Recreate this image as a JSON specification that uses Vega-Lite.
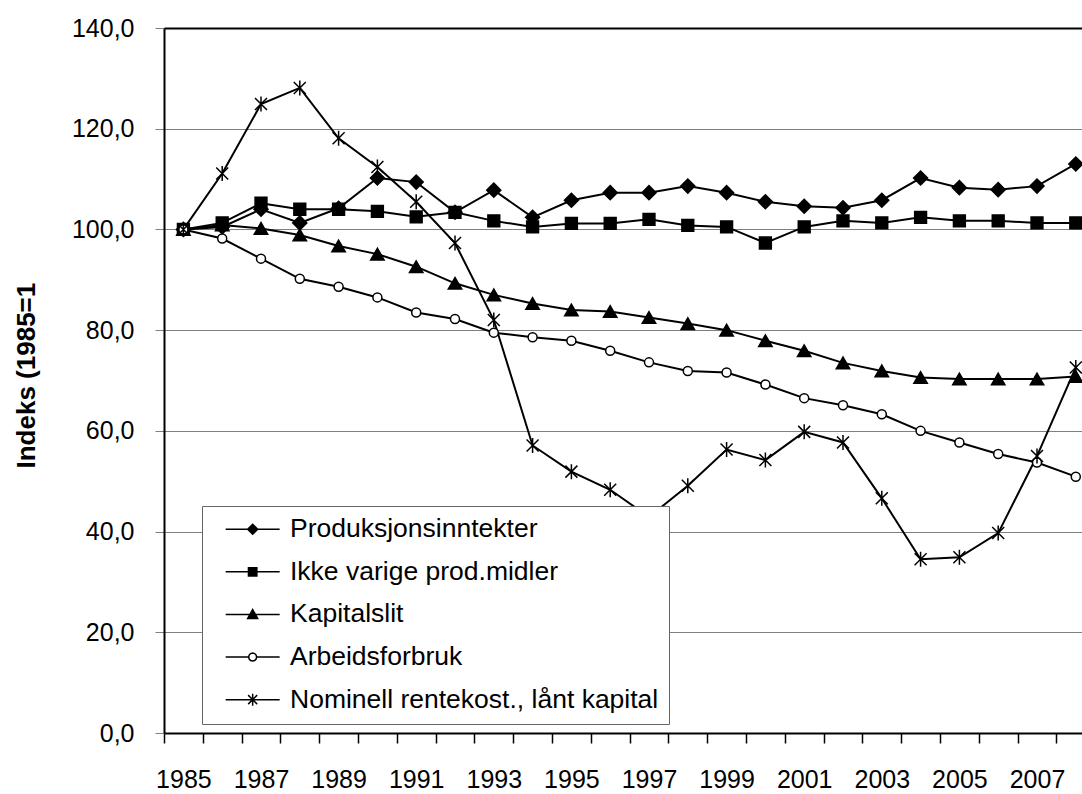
{
  "$schema": "https://vega.github.io/schema/vega-lite/v6.json",
  "width": 918,
  "height": 705,
  "autosize": {"type": "none"},
  "padding": {"left": 164, "top": 28, "right": 0, "bottom": 61},
  "background": "white",
  "view": {"stroke": null},
  "config": {"font": "Liberation Sans"},
  "data": {"values": [
    {"year": 1985, "series": "Produksjonsinntekter", "value": 100},
    {"year": 1986, "series": "Produksjonsinntekter", "value": 100.5},
    {"year": 1987, "series": "Produksjonsinntekter", "value": 104.0},
    {"year": 1988, "series": "Produksjonsinntekter", "value": 101.3},
    {"year": 1989, "series": "Produksjonsinntekter", "value": 104.2},
    {"year": 1990, "series": "Produksjonsinntekter", "value": 110.2},
    {"year": 1991, "series": "Produksjonsinntekter", "value": 109.4},
    {"year": 1992, "series": "Produksjonsinntekter", "value": 103.4},
    {"year": 1993, "series": "Produksjonsinntekter", "value": 107.8},
    {"year": 1994, "series": "Produksjonsinntekter", "value": 102.4},
    {"year": 1995, "series": "Produksjonsinntekter", "value": 105.8},
    {"year": 1996, "series": "Produksjonsinntekter", "value": 107.3},
    {"year": 1997, "series": "Produksjonsinntekter", "value": 107.3},
    {"year": 1998, "series": "Produksjonsinntekter", "value": 108.6},
    {"year": 1999, "series": "Produksjonsinntekter", "value": 107.3},
    {"year": 2000, "series": "Produksjonsinntekter", "value": 105.5},
    {"year": 2001, "series": "Produksjonsinntekter", "value": 104.6},
    {"year": 2002, "series": "Produksjonsinntekter", "value": 104.3},
    {"year": 2003, "series": "Produksjonsinntekter", "value": 105.8},
    {"year": 2004, "series": "Produksjonsinntekter", "value": 110.2},
    {"year": 2005, "series": "Produksjonsinntekter", "value": 108.3},
    {"year": 2006, "series": "Produksjonsinntekter", "value": 107.9},
    {"year": 2007, "series": "Produksjonsinntekter", "value": 108.6},
    {"year": 2008, "series": "Produksjonsinntekter", "value": 113.0},
    {"year": 1985, "series": "Ikke varige prod.midler", "value": 100},
    {"year": 1986, "series": "Ikke varige prod.midler", "value": 101.3},
    {"year": 1987, "series": "Ikke varige prod.midler", "value": 105.2},
    {"year": 1988, "series": "Ikke varige prod.midler", "value": 104.0},
    {"year": 1989, "series": "Ikke varige prod.midler", "value": 104.0},
    {"year": 1990, "series": "Ikke varige prod.midler", "value": 103.6},
    {"year": 1991, "series": "Ikke varige prod.midler", "value": 102.5},
    {"year": 1992, "series": "Ikke varige prod.midler", "value": 103.4},
    {"year": 1993, "series": "Ikke varige prod.midler", "value": 101.7},
    {"year": 1994, "series": "Ikke varige prod.midler", "value": 100.5},
    {"year": 1995, "series": "Ikke varige prod.midler", "value": 101.2},
    {"year": 1996, "series": "Ikke varige prod.midler", "value": 101.2},
    {"year": 1997, "series": "Ikke varige prod.midler", "value": 102.0},
    {"year": 1998, "series": "Ikke varige prod.midler", "value": 100.8},
    {"year": 1999, "series": "Ikke varige prod.midler", "value": 100.5},
    {"year": 2000, "series": "Ikke varige prod.midler", "value": 97.3},
    {"year": 2001, "series": "Ikke varige prod.midler", "value": 100.5},
    {"year": 2002, "series": "Ikke varige prod.midler", "value": 101.7},
    {"year": 2003, "series": "Ikke varige prod.midler", "value": 101.3},
    {"year": 2004, "series": "Ikke varige prod.midler", "value": 102.4},
    {"year": 2005, "series": "Ikke varige prod.midler", "value": 101.7},
    {"year": 2006, "series": "Ikke varige prod.midler", "value": 101.7},
    {"year": 2007, "series": "Ikke varige prod.midler", "value": 101.3},
    {"year": 2008, "series": "Ikke varige prod.midler", "value": 101.3},
    {"year": 1985, "series": "Kapitalslit", "value": 100},
    {"year": 1986, "series": "Kapitalslit", "value": 100.9},
    {"year": 1987, "series": "Kapitalslit", "value": 100.2},
    {"year": 1988, "series": "Kapitalslit", "value": 98.9},
    {"year": 1989, "series": "Kapitalslit", "value": 96.7},
    {"year": 1990, "series": "Kapitalslit", "value": 95.1},
    {"year": 1991, "series": "Kapitalslit", "value": 92.6},
    {"year": 1992, "series": "Kapitalslit", "value": 89.3},
    {"year": 1993, "series": "Kapitalslit", "value": 87.0},
    {"year": 1994, "series": "Kapitalslit", "value": 85.3},
    {"year": 1995, "series": "Kapitalslit", "value": 84.0},
    {"year": 1996, "series": "Kapitalslit", "value": 83.7},
    {"year": 1997, "series": "Kapitalslit", "value": 82.5},
    {"year": 1998, "series": "Kapitalslit", "value": 81.3},
    {"year": 1999, "series": "Kapitalslit", "value": 80.0},
    {"year": 2000, "series": "Kapitalslit", "value": 77.9},
    {"year": 2001, "series": "Kapitalslit", "value": 75.9},
    {"year": 2002, "series": "Kapitalslit", "value": 73.5},
    {"year": 2003, "series": "Kapitalslit", "value": 71.9},
    {"year": 2004, "series": "Kapitalslit", "value": 70.6},
    {"year": 2005, "series": "Kapitalslit", "value": 70.3},
    {"year": 2006, "series": "Kapitalslit", "value": 70.3},
    {"year": 2007, "series": "Kapitalslit", "value": 70.3},
    {"year": 2008, "series": "Kapitalslit", "value": 70.8},
    {"year": 1985, "series": "Arbeidsforbruk", "value": 100},
    {"year": 1986, "series": "Arbeidsforbruk", "value": 98.2},
    {"year": 1987, "series": "Arbeidsforbruk", "value": 94.2},
    {"year": 1988, "series": "Arbeidsforbruk", "value": 90.2},
    {"year": 1989, "series": "Arbeidsforbruk", "value": 88.6},
    {"year": 1990, "series": "Arbeidsforbruk", "value": 86.5},
    {"year": 1991, "series": "Arbeidsforbruk", "value": 83.5},
    {"year": 1992, "series": "Arbeidsforbruk", "value": 82.2},
    {"year": 1993, "series": "Arbeidsforbruk", "value": 79.5},
    {"year": 1994, "series": "Arbeidsforbruk", "value": 78.6},
    {"year": 1995, "series": "Arbeidsforbruk", "value": 77.9},
    {"year": 1996, "series": "Arbeidsforbruk", "value": 75.9},
    {"year": 1997, "series": "Arbeidsforbruk", "value": 73.6},
    {"year": 1998, "series": "Arbeidsforbruk", "value": 71.9},
    {"year": 1999, "series": "Arbeidsforbruk", "value": 71.6},
    {"year": 2000, "series": "Arbeidsforbruk", "value": 69.2},
    {"year": 2001, "series": "Arbeidsforbruk", "value": 66.5},
    {"year": 2002, "series": "Arbeidsforbruk", "value": 65.1},
    {"year": 2003, "series": "Arbeidsforbruk", "value": 63.3},
    {"year": 2004, "series": "Arbeidsforbruk", "value": 60.0},
    {"year": 2005, "series": "Arbeidsforbruk", "value": 57.7},
    {"year": 2006, "series": "Arbeidsforbruk", "value": 55.4},
    {"year": 2007, "series": "Arbeidsforbruk", "value": 53.7},
    {"year": 2008, "series": "Arbeidsforbruk", "value": 50.9},
    {"year": 1985, "series": "Nominell rentekost., lånt kapital", "value": 100},
    {"year": 1986, "series": "Nominell rentekost., lånt kapital", "value": 111.1},
    {"year": 1987, "series": "Nominell rentekost., lånt kapital", "value": 124.9},
    {"year": 1988, "series": "Nominell rentekost., lånt kapital", "value": 128.1},
    {"year": 1989, "series": "Nominell rentekost., lånt kapital", "value": 118.1},
    {"year": 1990, "series": "Nominell rentekost., lånt kapital", "value": 112.4},
    {"year": 1991, "series": "Nominell rentekost., lånt kapital", "value": 105.5},
    {"year": 1992, "series": "Nominell rentekost., lånt kapital", "value": 97.3},
    {"year": 1993, "series": "Nominell rentekost., lånt kapital", "value": 82.0},
    {"year": 1994, "series": "Nominell rentekost., lånt kapital", "value": 57.1},
    {"year": 1995, "series": "Nominell rentekost., lånt kapital", "value": 51.9},
    {"year": 1996, "series": "Nominell rentekost., lånt kapital", "value": 48.3},
    {"year": 1997, "series": "Nominell rentekost., lånt kapital", "value": 42.9},
    {"year": 1998, "series": "Nominell rentekost., lånt kapital", "value": 49.1},
    {"year": 1999, "series": "Nominell rentekost., lånt kapital", "value": 56.3},
    {"year": 2000, "series": "Nominell rentekost., lånt kapital", "value": 54.2},
    {"year": 2001, "series": "Nominell rentekost., lånt kapital", "value": 59.8},
    {"year": 2002, "series": "Nominell rentekost., lånt kapital", "value": 57.7},
    {"year": 2003, "series": "Nominell rentekost., lånt kapital", "value": 46.6},
    {"year": 2004, "series": "Nominell rentekost., lånt kapital", "value": 34.5},
    {"year": 2005, "series": "Nominell rentekost., lånt kapital", "value": 34.9},
    {"year": 2006, "series": "Nominell rentekost., lånt kapital", "value": 39.7},
    {"year": 2007, "series": "Nominell rentekost., lånt kapital", "value": 55.0},
    {"year": 2008, "series": "Nominell rentekost., lånt kapital", "value": 72.6}
  ]},
  "encoding": {
    "x": {
      "field": "year", "type": "quantitative",
      "scale": {"domain": [1984.5, 2008.16], "nice": false, "zero": false},
      "axis": {
        "title": null,
        "values": [1984.5, 1985, 1985.5, 1986.5, 1987, 1987.5, 1988.5, 1989, 1989.5, 1990.5, 1991, 1991.5, 1992.5, 1993, 1993.5, 1994.5, 1995, 1995.5, 1996.5, 1997, 1997.5, 1998.5, 1999, 1999.5, 2000.5, 2001, 2001.5, 2002.5, 2003, 2003.5, 2004.5, 2005, 2005.5, 2006.5, 2007, 2007.5],
        "labelExpr": "datum.value % 2 === 1 ? toString(datum.value) : ''",
        "labelOverlap": false, "labelBound": false, "labelFlush": false,
        "labelFont": "Liberation Sans", "labelFontSize": 25, "labelColor": "black",
        "labelPadding": 24, "labelBaseline": "top", "labelAlign": "center",
        "tickColor": "black", "tickSize": 10, "tickWidth": 1.5,
        "tickOpacity": {"condition": {"test": "datum.value % 1 === 0", "value": 0}, "value": 1},
        "domainColor": "black", "domainWidth": 2, "grid": false
      }
    },
    "y": {
      "field": "value", "type": "quantitative",
      "scale": {"domain": [0, 140], "nice": false},
      "axis": {
        "values": [0, 20, 40, 60, 80, 100, 120, 140],
        "labelExpr": "replace(format(datum.value, '.1f'), '.', ',')",
        "labelFont": "Liberation Sans", "labelFontSize": 25, "labelColor": "black",
        "labelPadding": 21, "labelBound": false, "labelFlush": false,
        "tickSize": 9, "tickColor": "#808080", "tickWidth": 1,
        "domainColor": "black", "domainWidth": 2,
        "grid": true,
        "gridColor": {"condition": {"test": "datum.value === 140", "value": "black"}, "value": "#808080"},
        "gridWidth": {"condition": {"test": "datum.value === 140", "value": 2}, "value": 1},
        "title": "Indeks (1985=1",
        "titleFont": "Liberation Sans", "titleFontSize": 26, "titleFontWeight": "bold", "titleColor": "black",
        "titleAngle": 270, "titleAlign": "left", "titleBaseline": "alphabetic",
        "titleX": -130, "titleY": 440
      }
    }
  },
  "layer": [
    {
      "mark": {"type": "line", "color": "black", "strokeWidth": 2},
      "encoding": {"detail": {"field": "series", "type": "nominal"}}
    },
    {
      "mark": {"type": "point", "filled": true, "stroke": "black", "strokeWidth": 1.5, "opacity": 1},
      "encoding": {
        "shape": {
          "field": "series", "type": "nominal",
          "scale": {
            "domain": ["Produksjonsinntekter", "Ikke varige prod.midler", "Kapitalslit", "Arbeidsforbruk", "Nominell rentekost., lånt kapital"],
            "range": ["diamond", "square", "triangle-up", "circle", "M-1,-1L1,1M-1,1L1,-1M0,-1.25L0,1.25"]
          },
          "legend": null
        },
        "fill": {
          "field": "series", "type": "nominal",
          "scale": {
            "domain": ["Arbeidsforbruk", "Ikke varige prod.midler", "Kapitalslit", "Nominell rentekost., lånt kapital", "Produksjonsinntekter"],
            "range": ["white", "black", "black", "transparent", "black"]
          },
          "legend": null
        },
        "size": {
          "field": "series", "type": "nominal",
          "scale": {
            "type": "ordinal",
            "domain": ["Nominell rentekost., lånt kapital", "Arbeidsforbruk", "Kapitalslit", "Ikke varige prod.midler", "Produksjonsinntekter"],
            "range": [144, 81, 180, 140, 196]
          },
          "legend": null
        }
      }
    },
    {
      "transform": [{"filter": "datum.year < 0"}],
      "mark": {"type": "point", "filled": true, "stroke": "black", "strokeWidth": 1.5, "opacity": 1},
      "encoding": {
        "shape": {
          "field": "series", "type": "nominal",
          "scale": {
            "domain": ["Produksjonsinntekter", "Ikke varige prod.midler", "Kapitalslit", "Arbeidsforbruk", "Nominell rentekost., lånt kapital"],
            "range": [
              "M-2.7,0L2.7,0M-0.5,0L0,-0.5L0.5,0L0,0.5Z",
              "M-2.7,0L2.7,0M-0.42,-0.42L0.42,-0.42L0.42,0.42L-0.42,0.42Z",
              "M-2.7,0L2.7,0M-0.5,0.4L0.5,0.4L0,-0.5Z",
              "M-2.7,0L-0.4,0M0.4,0L2.7,0M0.4,0L0.346,0.2L0.2,0.346L0,0.4L-0.2,0.346L-0.346,0.2L-0.4,0L-0.346,-0.2L-0.2,-0.346L0,-0.4L0.2,-0.346L0.346,-0.2Z",
              "M-2.7,0L2.7,0M-0.45,-0.45L0.45,0.45M-0.45,0.45L0.45,-0.45M0,-0.6L0,0.6"
            ]
          },
          "legend": {
            "orient": "none", "legendX": 38, "legendY": 478, "title": null, "direction": "vertical",
            "fillColor": "white", "strokeColor": "#666666", "padding": 10,
            "labelFont": "Liberation Sans", "labelFontSize": 26.5, "labelColor": "black", "labelLimit": 700,
            "symbolSize": 400, "symbolStrokeWidth": 1.5, "symbolOffset": 27.4, "labelOffset": 24.1, "rowPadding": 15.6
          }
        },
        "fill": {
          "field": "series", "type": "nominal",
          "scale": {
            "domain": ["Produksjonsinntekter", "Ikke varige prod.midler", "Kapitalslit", "Arbeidsforbruk", "Nominell rentekost., lånt kapital"],
            "range": ["black", "black", "black", "white", "transparent"]
          },
          "legend": {
            "orient": "none", "legendX": 38, "legendY": 478, "title": null, "direction": "vertical",
            "fillColor": "white", "strokeColor": "#666666", "padding": 10,
            "labelFont": "Liberation Sans", "labelFontSize": 26.5, "labelColor": "black", "labelLimit": 700,
            "symbolSize": 400, "symbolStrokeWidth": 1.5, "symbolOffset": 27.4, "labelOffset": 24.1, "rowPadding": 15.6
          }
        }
      }
    }
  ],
  "resolve": {"scale": {"shape": "independent", "fill": "independent", "size": "independent"}}
}
